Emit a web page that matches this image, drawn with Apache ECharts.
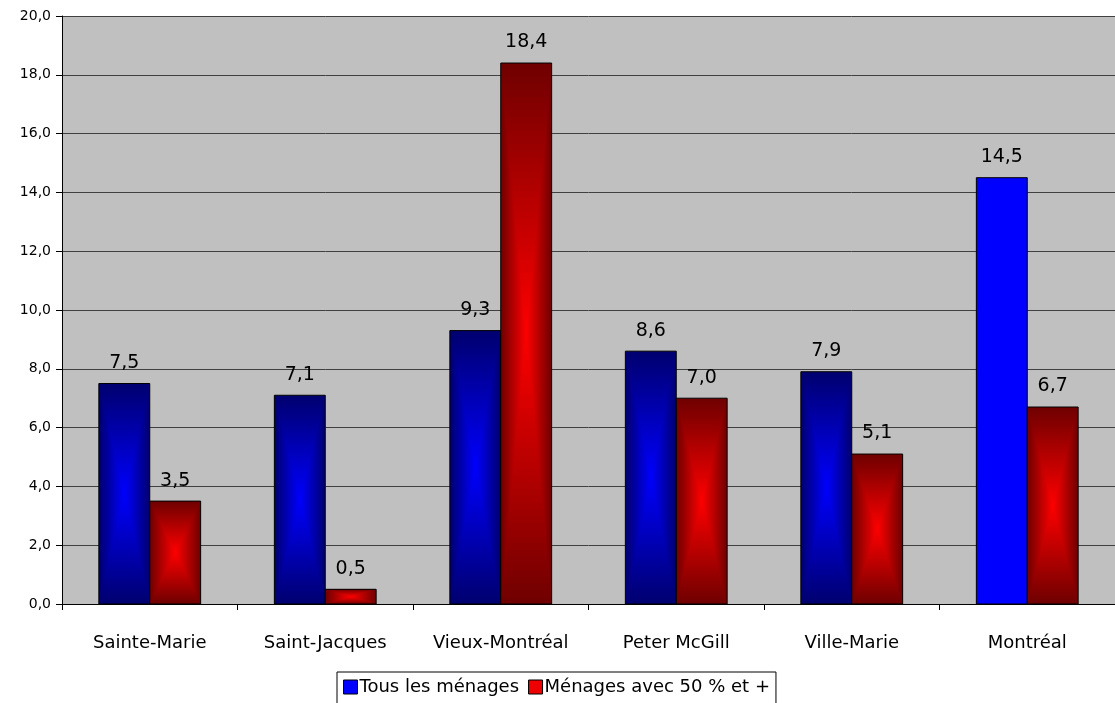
<!DOCTYPE html>
<html>
<head>
<meta charset="utf-8">
<script src="https://cdn.jsdelivr.net/npm/echarts@6/dist/echarts.min.js"></script>
<style>
  html, body { margin: 0; padding: 0; background: #fff; }
  #chart { width: 1115px; height: 703px; }
</style>
</head>
<body>
<div id="chart"></div>
<script>
// données
const categories = ['Sainte-Marie', 'Saint-Jacques', 'Vieux-Montréal', 'Peter McGill', 'Ville-Marie', 'Montréal'];
const tousMenages = [7.5, 7.1, 9.3, 8.6, 7.9, 14.5];
const menages50 = [3.5, 0.5, 18.4, 7.0, 5.1, 6.7];
const seriesNames = ['Tous les ménages', 'Ménages avec 50 % et +'];
const yTicks = [0, 2, 4, 6, 8, 10, 12, 14, 16, 18, 20];

// la barre bleue de Montréal est unie, les autres ont un dégradé
const solidCategory = 'Montréal';

const FONT = '"DejaVu Sans", Arial, sans-serif';
const fmt = v => v.toFixed(1).replace('.', ',');

const gradients = [
  { edge: [0, 0, 112], center: [0, 0, 255] },
  { edge: [112, 0, 0], center: [255, 0, 0] }
];

function mix(a, b, t) {
  return 'rgb(' + a.map((c, i) => Math.round(c + (b[i] - c) * t)).join(',') + ')';
}

function renderBar(params, api) {
  const idx = api.value(0);
  const val = api.value(1);
  const top = api.coord([idx, val]);
  const base = api.coord([idx, 0]);
  const band = api.size([1, 0])[0];
  const bw = band * 0.29;
  const x0 = top[0] + (params.seriesIndex === 0 ? -bw : 0);
  const y0 = top[1];
  const h = base[1] - top[1];
  const g = gradients[params.seriesIndex];
  const children = [];
  if (params.seriesIndex === 0 && categories[idx] === solidCategory) {
    children.push({ type: 'rect', shape: { x: x0, y: y0, width: bw, height: h }, style: { fill: '#0000ff' } });
  } else {
    // dégradé rectangulaire depuis le centre
    const steps = 40;
    for (let k = 0; k < steps; k++) {
      const t = k / steps;
      const ix = t * bw / 2, iy = t * h / 2;
      children.push({
        type: 'rect',
        shape: { x: x0 + ix, y: y0 + iy, width: bw - 2 * ix, height: h - 2 * iy },
        style: { fill: mix(g.edge, g.center, t) }
      });
    }
  }
  // contour
  children.push({
    type: 'rect',
    shape: { x: x0, y: y0, width: bw, height: h },
    style: { fill: 'none', stroke: '#000', lineWidth: 1 }
  });
  children.push({
    type: 'text',
    x: x0 + bw / 2,
    y: y0 - 11,
    style: {
      text: fmt(val),
      fill: '#000',
      font: '19px ' + FONT,
      align: 'center',
      verticalAlign: 'bottom'
    }
  });
  return { type: 'group', children: children };
}

let myChart = echarts.init(document.getElementById('chart'));
myChart.setOption({
  animation: false,
  textStyle: { fontFamily: FONT },
  grid: {
    left: 62,
    right: 0,
    top: 16,
    bottom: 99,
    show: true,
    backgroundColor: '#c0c0c0',
    borderWidth: 0
  },
  legend: {
    left: 337,
    top: 672,
    padding: [6, 6, 14, 6],
    borderColor: '#000',
    borderWidth: 1,
    itemGap: 9,
    itemWidth: 14,
    itemHeight: 14,
    textStyle: { fontSize: 18, color: '#000', padding: [0, 0, 0, -3] },
    data: [
      { name: seriesNames[0], icon: 'rect', itemStyle: { color: '#0000ff', borderColor: '#000', borderWidth: 1 } },
      { name: seriesNames[1], icon: 'rect', itemStyle: { color: '#ee0000', borderColor: '#000', borderWidth: 1 } }
    ]
  },
  xAxis: {
    type: 'category',
    data: categories,
    axisLine: { lineStyle: { color: '#000', width: 1 } },
    axisTick: { show: true, interval: 0, length: 6, lineStyle: { color: '#000' } },
    axisLabel: { interval: 0, fontSize: 18, color: '#000', margin: 30 },
    splitLine: { show: false }
  },
  yAxis: {
    type: 'value',
    min: yTicks[0],
    max: yTicks[yTicks.length - 1],
    interval: yTicks[1] - yTicks[0],
    axisLine: { show: true, lineStyle: { color: '#000', width: 1 } },
    axisTick: { show: true, length: 6, lineStyle: { color: '#000' } },
    axisLabel: { fontSize: 14, color: '#000', margin: 11, formatter: v => fmt(v) },
    splitLine: { show: true, lineStyle: { color: '#404040', width: 1 } }
  },
  series: [
    {
      name: seriesNames[0],
      type: 'custom',
      renderItem: renderBar,
      itemStyle: { color: '#0000ff' },
      encode: { x: 0, y: 1 },
      data: tousMenages.map((v, i) => [i, v]),
      z: 3
    },
    {
      name: seriesNames[1],
      type: 'custom',
      renderItem: renderBar,
      itemStyle: { color: '#ff0000' },
      encode: { x: 0, y: 1 },
      data: menages50.map((v, i) => [i, v]),
      z: 3
    }
  ]
});
</script>
</body>
</html>
